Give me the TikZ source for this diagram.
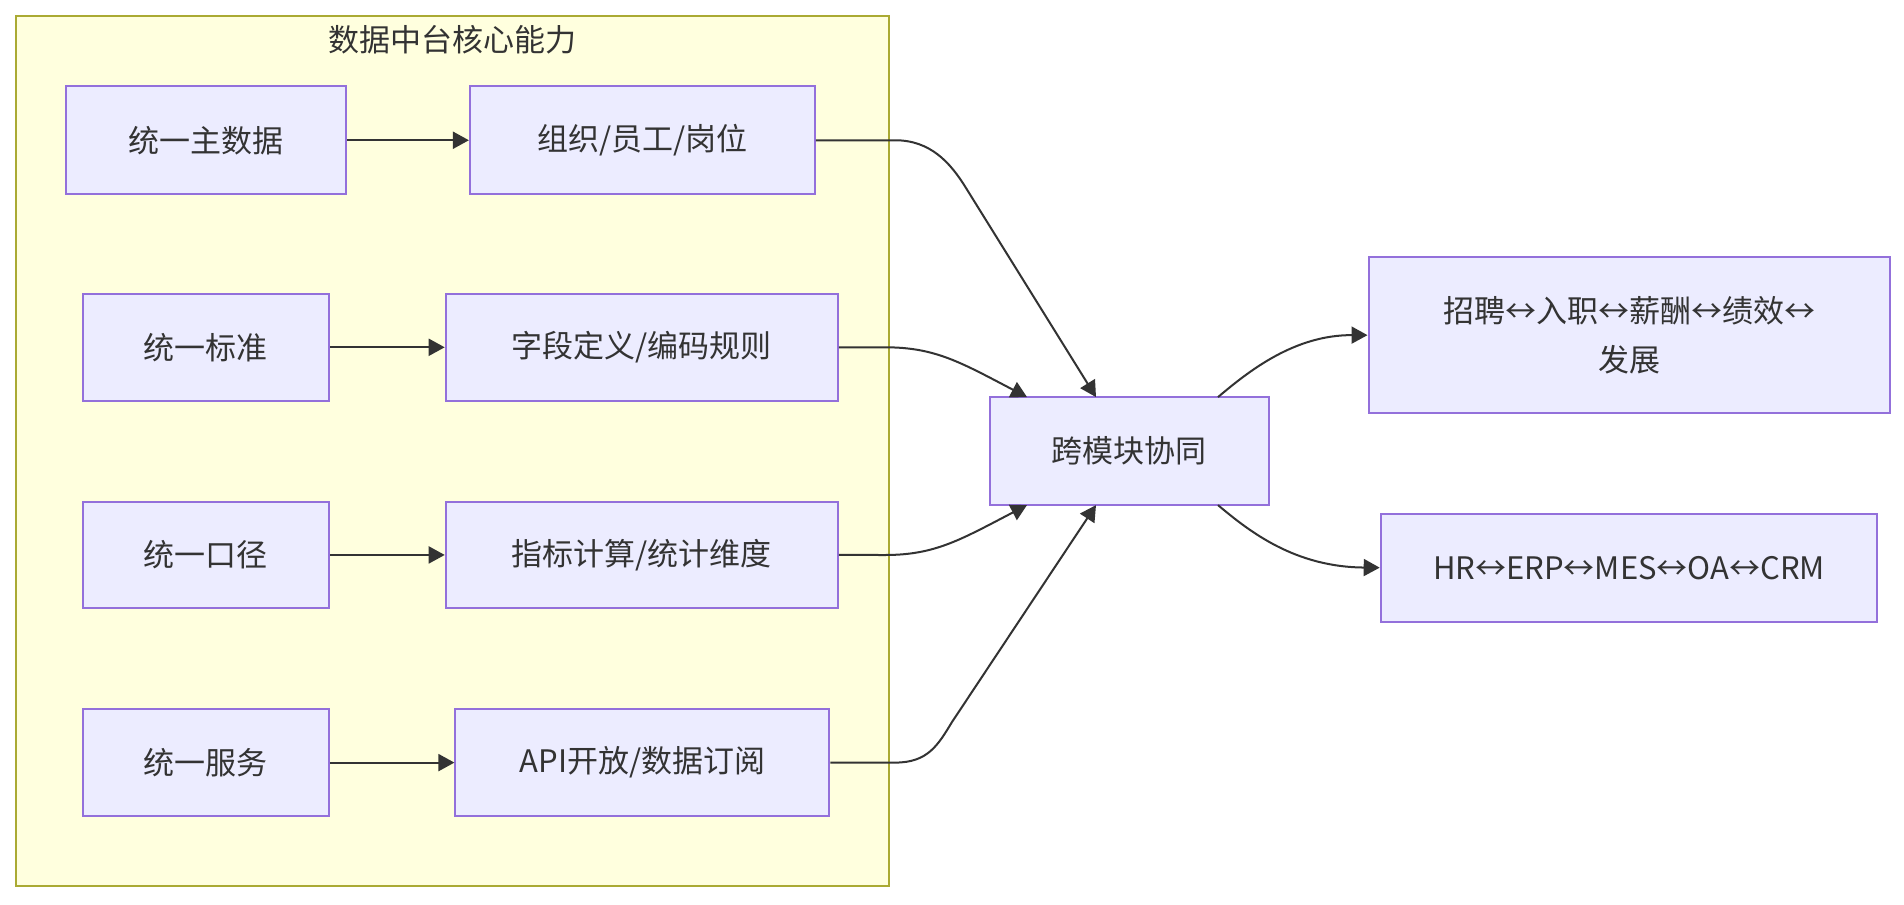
\documentclass[tikz,border=0pt]{standalone}
\usepackage{fontspec}
\setmainfont{Noto Sans CJK SC}
\usetikzlibrary{arrows.meta}
\definecolor{nodefill}{HTML}{ECECFF}
\definecolor{nodeline}{HTML}{9370DB}
\definecolor{clusterfill}{HTML}{FFFFDE}
\definecolor{clusterline}{HTML}{AAAA33}
\definecolor{edgecol}{HTML}{333333}
\tikzset{
  box/.style={draw=nodeline, fill=nodefill, line width=1pt, inner sep=0pt, text=edgecol, align=center,
    font=\fontsize{15.5pt}{24.5pt}\selectfont},
  link/.style={draw=edgecol, line width=1pt, -{Triangle[length=8pt,width=8.5pt]}},
}
\newcommand{\mybox}[6]{% name, x1, y1, x2, y2, text
  \node[box, minimum width={(#4-#2)*0.5pt}, minimum height={(#5-#3)*0.5pt}] (#1) at ({(#2+#4)/2},{(#3+#5)/2}) {#6};}
\begin{document}
\begin{tikzpicture}[x=0.5pt,y=-0.5pt]
\useasboundingbox (0,0) rectangle (1904,904);
\fill[white] (0,0) rectangle (1904,904);
\node[draw=clusterline, fill=clusterfill, line width=1pt, minimum width=436.5pt, minimum height=435.3pt, inner sep=0pt] (cluster) at (452.35,451.1) {};
\node[text=edgecol, font=\fontsize{15.5pt}{20pt}\selectfont] (title) at (452,40) {数据中台核心能力};
\mybox{a1}{65.6}{86.2}{346.1}{194.3}{统一主数据}
\mybox{a2}{469.9}{86.2}{814.8}{194.3}{组织/员工/岗位}
\mybox{b1}{82.6}{293.9}{329.1}{400.7}{统一标准}
\mybox{b2}{445.7}{293.9}{837.9}{400.7}{字段定义/编码规则}
\mybox{c1}{82.6}{501.5}{329.1}{608.4}{统一口径}
\mybox{c2}{445.7}{501.5}{837.9}{608.4}{指标计算/统计维度}
\mybox{d1}{82.6}{709.2}{329.1}{816}{统一服务}
\mybox{d2}{455.4}{709.2}{829.4}{816}{API开放/数据订阅}
\mybox{hub}{989.7}{397.1}{1269}{505.1}{跨模块协同}
\mybox{r1}{1368.5}{257.4}{1889.5}{412.9}{招聘↔入职↔薪酬↔绩效↔\\发展}
\mybox{r2}{1380.7}{513.6}{1877.4}{621.7}{HR↔ERP↔MES↔OA↔CRM}
\coordinate (hubtA) at (1096,397.1);
\coordinate (hubtB) at (1027,397.1);
\coordinate (hubbC) at (1027,505.1);
\coordinate (hubbD) at (1096,505.1);
\coordinate (hubtR) at (1218,397.1);
\coordinate (hubbR) at (1218,505.1);
\draw[link] (a1.east) -- (a2.west);
\draw[link] (b1.east) -- (b2.west);
\draw[link] (c1.east) -- (c2.west);
\draw[link] (d1.east) -- (d2.west);
\draw[link] (a2.east) -- (895,140.25) .. controls (930,140.25) and (950,162) .. (966,188) -- (hubtA);
\draw[link] (b2.east) -- (885,347.3) .. controls (935,347.3) and (960,362) .. (hubtB);
\draw[link] (c2.east) -- (885,555) .. controls (935,555) and (960,540) .. (hubbC);
\draw[link] (d2.east) -- (895,762.6) .. controls (928,762.6) and (938,745) .. (952,722) -- (hubbD);
\draw[link] (hubtR) .. controls (1250,370) and (1295,335) .. (r1.west);
\draw[link] (hubbR) .. controls (1250,532) and (1295,567) .. (r2.west);
\end{tikzpicture}
\end{document}
